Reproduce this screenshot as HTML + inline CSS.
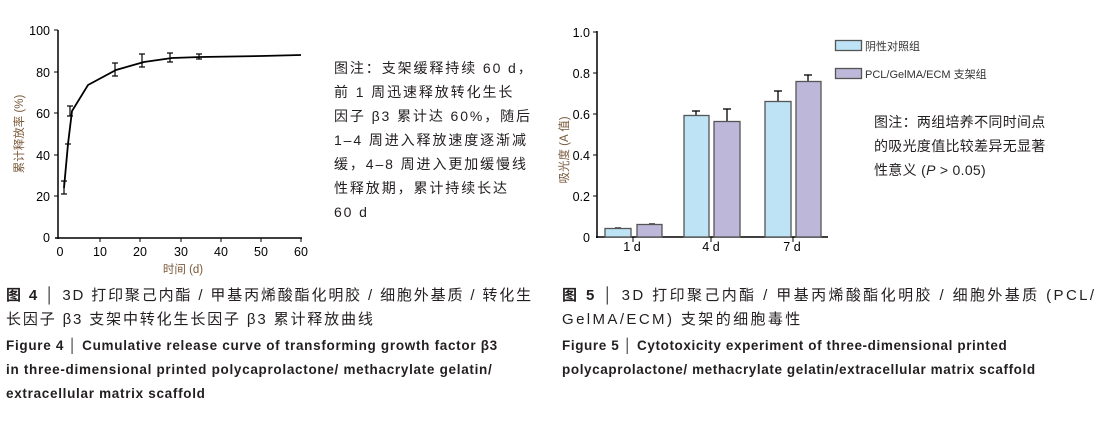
<!DOCTYPE html><html><head><meta charset="utf-8"><style>
body{margin:0;width:1113px;height:425px;background:#fff;overflow:hidden;font-family:"Liberation Sans","Noto Sans CJK SC",sans-serif}
.t{position:absolute;color:#231f20;white-space:nowrap}
</style></head><body>
<svg width="1113" height="425" style="position:absolute;left:0;top:0" font-family="Liberation Sans, Noto Sans CJK SC, sans-serif">
<g stroke="#000" stroke-width="1.5" fill="none">
<line x1="58" y1="30" x2="58" y2="239"/><line x1="55" y1="238" x2="302" y2="238"/>
</g>
<g stroke="#000" stroke-width="1">
<line x1="54" y1="30" x2="58" y2="30"/><line x1="54" y1="72" x2="58" y2="72"/><line x1="54" y1="113" x2="58" y2="113"/><line x1="54" y1="155" x2="58" y2="155"/><line x1="54" y1="196" x2="58" y2="196"/>
<line x1="100" y1="238" x2="100" y2="242"/><line x1="140" y1="238" x2="140" y2="242"/><line x1="181" y1="238" x2="181" y2="242"/><line x1="221" y1="238" x2="221" y2="242"/><line x1="261" y1="238" x2="261" y2="242"/><line x1="301" y1="238" x2="301" y2="242"/>
</g>
<g font-size="12.5" fill="#000" text-anchor="end">
<text x="50" y="35">100</text><text x="50" y="77">80</text><text x="50" y="118">60</text><text x="50" y="160">40</text><text x="50" y="201">20</text><text x="50" y="242">0</text>
</g>
<g font-size="12.5" fill="#000" text-anchor="middle">
<text x="60" y="256">0</text><text x="100" y="256">10</text><text x="140" y="256">20</text><text x="181" y="256">30</text><text x="221" y="256">40</text><text x="261" y="256">50</text><text x="301" y="256">60</text>
</g>
<text x="183" y="273" font-size="11.5" fill="#7a5a3a" text-anchor="middle">时间 (d)</text>
<text transform="translate(23,134) rotate(-90)" font-size="11.5" fill="#7a5a3a" text-anchor="middle">累计释放率 (%)</text>
<polyline fill="none" stroke="#000" stroke-width="1.8" points="64,188 68,144 72,111 88,85 116,70 144,62 172,58 201,57 261,56 301,55"/>
<g stroke="#000" stroke-width="1.2">
<line x1="64" y1="181" x2="64" y2="194"/><line x1="61" y1="181" x2="67" y2="181"/><line x1="61" y1="194" x2="67" y2="194"/>
<line x1="68" y1="143" x2="68" y2="146"/><line x1="65" y1="144" x2="71" y2="144"/>
<line x1="70" y1="106" x2="70" y2="116"/><line x1="67" y1="106" x2="73" y2="106"/><line x1="67" y1="116" x2="73" y2="116"/>
<line x1="115" y1="63" x2="115" y2="76"/><line x1="112" y1="63" x2="118" y2="63"/><line x1="112" y1="76" x2="118" y2="76"/>
<line x1="142" y1="54" x2="142" y2="67"/><line x1="139" y1="54" x2="145" y2="54"/><line x1="139" y1="67" x2="145" y2="67"/>
<line x1="170" y1="53" x2="170" y2="62"/><line x1="167" y1="53" x2="173" y2="53"/><line x1="167" y1="62" x2="173" y2="62"/>
<line x1="199" y1="54" x2="199" y2="59"/><line x1="196" y1="54" x2="202" y2="54"/><line x1="196" y1="59" x2="202" y2="59"/>
</g>
<g stroke="#000" stroke-width="1.5"><line x1="597" y1="31" x2="597" y2="238"/><line x1="596" y1="237" x2="828" y2="237"/></g>
<g stroke="#000" stroke-width="1"><line x1="593" y1="32" x2="597" y2="32"/><line x1="593" y1="73" x2="597" y2="73"/><line x1="593" y1="114" x2="597" y2="114"/><line x1="593" y1="155" x2="597" y2="155"/><line x1="593" y1="196" x2="597" y2="196"/>
<line x1="633" y1="237" x2="633" y2="242"/><line x1="711" y1="237" x2="711" y2="242"/><line x1="793" y1="237" x2="793" y2="242"/></g>
<g font-size="12.5" fill="#000" text-anchor="end">
<text x="590" y="37">1.0</text><text x="590" y="78">0.8</text><text x="590" y="119">0.6</text><text x="590" y="160">0.4</text><text x="590" y="201">0.2</text><text x="590" y="242">0</text>
</g>
<g font-size="12.5" fill="#000" text-anchor="middle"><text x="632" y="251">1 d</text><text x="711" y="251">4 d</text><text x="792" y="251">7 d</text></g>
<text transform="translate(568,150) rotate(-90)" font-size="11.5" fill="#7a5a3a" text-anchor="middle">吸光度 (A 值)</text>
<g stroke="#000" stroke-width="1.3">
<line x1="615" y1="228" x2="621" y2="228"/>
<line x1="649" y1="224" x2="655" y2="224"/>
<line x1="696" y1="111" x2="696" y2="116"/><line x1="692" y1="111" x2="700" y2="111"/>
<line x1="727" y1="109" x2="727" y2="121"/><line x1="723" y1="109" x2="731" y2="109"/>
<line x1="778" y1="91" x2="778" y2="101"/><line x1="774" y1="91" x2="782" y2="91"/>
<line x1="808" y1="75" x2="808" y2="81"/><line x1="804" y1="75" x2="812" y2="75"/>
</g>
<g stroke="#555" stroke-width="1.3">
<rect x="605" y="228.5" width="26" height="8.5" fill="#bde3f5"/>
<rect x="637" y="224.5" width="25" height="12.5" fill="#bdb8d9"/>
<rect x="684" y="115.5" width="25" height="121.5" fill="#bde3f5"/>
<rect x="714" y="121.5" width="26" height="115.5" fill="#bdb8d9"/>
<rect x="765" y="101.5" width="26" height="135.5" fill="#bde3f5"/>
<rect x="796" y="81.5" width="25" height="155.5" fill="#bdb8d9"/>
<rect x="835.5" y="40.5" width="26" height="10" fill="#bde3f5"/>
<rect x="835.5" y="68.5" width="26" height="10" fill="#bdb8d9"/>
</g>
<text x="865" y="50" font-size="11" fill="#333">阴性对照组</text>
<text x="865" y="78" font-size="11" fill="#333">PCL/GelMA/ECM 支架组</text>
</svg>
<div class="t" style="left:334px;top:56px;font-size:14px;line-height:24px;letter-spacing:1.9px">图注：支架缓释持续 60 d，<br>前 1 周迅速释放转化生长<br>因子 β3 累计达 60%，随后<br>1–4 周进入释放速度逐渐减<br>缓，4–8 周进入更加缓慢线<br>性释放期，累计持续长达<br>60 d</div>
<div class="t" style="left:874px;top:110px;font-size:14px;line-height:24px;letter-spacing:0.3px">图注：两组培养不同时间点<br>的吸光度值比较差异无显著<br>性意义 (<i>P</i> &gt; 0.05)</div>
<div class="t" style="left:6px;top:284px;font-size:15px;line-height:24px;letter-spacing:1.85px"><b>图 4</b> │ 3D 打印聚己内酯 / 甲基丙烯酸酯化明胶 / 细胞外基质 / 转化生<br>长因子 β3 支架中转化生长因子 β3 累计释放曲线</div>
<div class="t" style="left:6px;top:334px;font-size:13.5px;line-height:24px;font-weight:bold;letter-spacing:0.7px">Figure 4 │ Cumulative release curve of transforming growth factor β3<br>in three-dimensional printed polycaprolactone/ methacrylate gelatin/<br>extracellular matrix scaffold</div>
<div class="t" style="left:562px;top:284px;font-size:15px;line-height:24px;letter-spacing:2.4px"><b>图 5</b> │ 3D 打印聚己内酯 / 甲基丙烯酸酯化明胶 / 细胞外基质 (PCL/<br>GelMA/ECM) 支架的细胞毒性</div>
<div class="t" style="left:562px;top:334px;font-size:13.5px;line-height:24px;font-weight:bold;letter-spacing:0.6px">Figure 5 │ Cytotoxicity experiment of three-dimensional printed<br>polycaprolactone/ methacrylate gelatin/extracellular matrix scaffold</div>
</body></html>
